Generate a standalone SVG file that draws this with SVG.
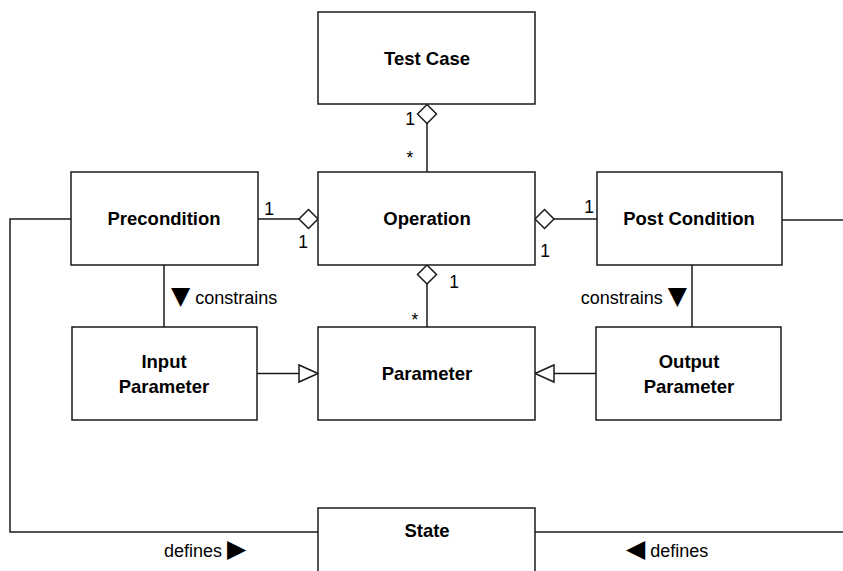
<svg xmlns="http://www.w3.org/2000/svg" width="843" height="571" viewBox="0 0 843 571">
<style>
.box{fill:#fff;stroke:#1a1a1a;stroke-width:1.5}
.ln{fill:none;stroke:#1a1a1a;stroke-width:1.5}
.dia{fill:#fff;stroke:#1a1a1a;stroke-width:1.5}
.tri{fill:#fff;stroke:#1a1a1a;stroke-width:1.5}
.t{font-family:"Liberation Sans",Arial,sans-serif;font-size:18.5px;font-weight:bold;fill:#000;text-anchor:middle;dominant-baseline:central}
.lb{font-family:"Liberation Sans",Arial,sans-serif;font-size:18px;fill:#000}
.m{font-family:"Liberation Sans",Arial,sans-serif;font-size:17.5px;fill:#000;text-anchor:middle}
.sym{font-family:"DejaVu Sans",sans-serif;font-size:25px}
</style>
<rect width="843" height="571" fill="#fff"/>
<g id="connectors">
  <!-- Test Case - Operation -->
  <line class="ln" x1="427" y1="123" x2="427" y2="172"/>
  <polygon class="dia" points="427,104.5 436.5,114 427,123.5 417.5,114"/>
  <text class="m" x="410" y="125">1</text>
  <text class="m" x="410" y="164">*</text>
  <!-- Precondition - Operation -->
  <line class="ln" x1="258" y1="219" x2="299" y2="219"/>
  <polygon class="dia" points="318,219 308.5,209.5 299,219 308.5,228.5"/>
  <text class="m" x="269" y="215">1</text>
  <text class="m" x="303" y="248">1</text>
  <!-- Operation - Post Condition -->
  <line class="ln" x1="554" y1="219" x2="597" y2="219"/>
  <polygon class="dia" points="535,219 544.5,209.5 554,219 544.5,228.5"/>
  <text class="m" x="589" y="213">1</text>
  <text class="m" x="545" y="257">1</text>
  <!-- Operation - Parameter -->
  <line class="ln" x1="427" y1="284" x2="427" y2="327"/>
  <polygon class="dia" points="427,265 436.5,274.5 427,284 417.5,274.5"/>
  <text class="m" x="454" y="288">1</text>
  <text class="m" x="415" y="326">*</text>
  <!-- Precondition - Input Parameter -->
  <line class="ln" x1="164" y1="265" x2="164" y2="327"/>
  <text class="lb" x="171" y="304"><tspan class="sym">▼</tspan> constrains</text>
  <!-- Post Condition - Output Parameter -->
  <line class="ln" x1="692" y1="265" x2="692" y2="327"/>
  <text class="lb" x="687" y="304" text-anchor="end">constrains <tspan class="sym">▼</tspan></text>
  <!-- Generalizations -->
  <line class="ln" x1="257" y1="373.5" x2="299" y2="373.5"/>
  <polygon class="tri" points="318,373.5 299,365 299,382"/>
  <line class="ln" x1="554" y1="373.5" x2="596" y2="373.5"/>
  <polygon class="tri" points="535,373.5 554,365 554,382"/>
  <!-- State defines -->
  <polyline class="ln" points="71,219 10,219 10,532 318,532"/>
  <text class="lb" x="164" y="557">defines <tspan class="sym">▶</tspan></text>
  <line class="ln" x1="782" y1="220" x2="843" y2="220"/>
  <line class="ln" x1="535" y1="532" x2="843" y2="532"/>
  <text class="lb" x="626" y="557"><tspan class="sym">◀</tspan> defines</text>
</g>
<g id="test-case"><rect class="box" x="318" y="12" width="217" height="92"/><text class="t" x="427" y="58">Test Case</text></g>
<g id="operation"><rect class="box" x="318" y="172" width="217" height="93"/><text class="t" x="427" y="218">Operation</text></g>
<g id="precondition"><rect class="box" x="71" y="172" width="187" height="93"/><text class="t" x="164" y="218">Precondition</text></g>
<g id="post-condition"><rect class="box" x="597" y="172" width="185" height="93"/><text class="t" x="689" y="218">Post Condition</text></g>
<g id="input-parameter"><rect class="box" x="72" y="327" width="185" height="93"/><text class="t" x="164" y="361">Input</text><text class="t" x="164" y="386">Parameter</text></g>
<g id="parameter"><rect class="box" x="318" y="327" width="217" height="93"/><text class="t" x="427" y="373">Parameter</text></g>
<g id="output-parameter"><rect class="box" x="596" y="327" width="185" height="93"/><text class="t" x="689" y="361">Output</text><text class="t" x="689" y="386">Parameter</text></g>
<g id="state"><rect class="box" x="318" y="508" width="217" height="80"/><text class="t" x="427" y="530">State</text></g>
</svg>
